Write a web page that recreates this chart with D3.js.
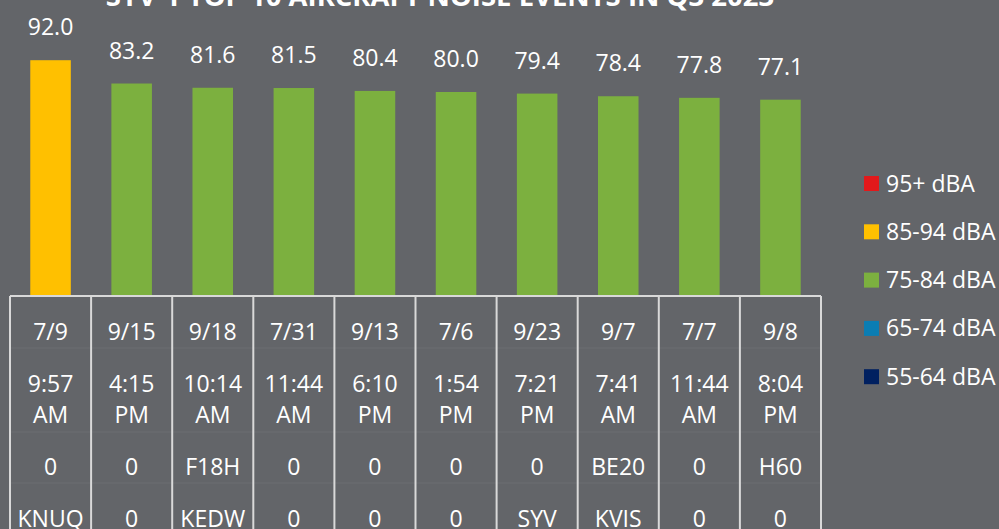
<!DOCTYPE html>
<html>
<head>
<meta charset="utf-8">
<script src="https://cdn.jsdelivr.net/npm/d3@7"></script>
<style>
  html, body { margin: 0; padding: 0; background: #636569; overflow: hidden; }
  svg { display: block; font-family: "Open Sans", "Noto Sans", sans-serif; }
</style>
</head>
<body>
<div id="chart"></div>
<script>
const WIDTH = 999;
const HEIGHT = 529;

// Data.
const dates    = ["7/9", "9/15", "9/18", "7/31", "9/13", "7/6", "9/23", "9/7", "7/7", "9/8"];
const times    = ["9:57 AM", "4:15 PM", "10:14 AM", "11:44 AM", "6:10 PM", "1:54 PM", "7:21 PM", "7:41 AM", "11:44 AM", "8:04 PM"];
const aircraft = ["0", "0", "F18H", "0", "0", "0", "0", "BE20", "0", "H60"];
const airports = ["KNUQ", "0", "KEDW", "0", "0", "0", "SYV", "KVIS", "0", "0"];
const values   = [92.0, 83.2, 81.6, 81.5, 80.4, 80.0, 79.4, 78.4, 77.8, 77.1];

const bandLabels = ["95+ dBA", "85-94 dBA", "75-84 dBA", "65-74 dBA", "55-64 dBA"];
const bandMins   = [95, 85, 75, 65, 55];
const bandColors = ["#e2191b", "#ffc000", "#7cb03f", "#0b7db3", "#002060"];

const TITLE = "SYV-1 TOP 10 AIRCRAFT NOISE EVENTS IN Q3 2023";

// Layout.
const PLOT = {'left': 10, 'right': 821};
const TABLE_TOP = 296;
const ROW_LINES = [348, 432, 483];

function bandColor(v) {
    for (var i = 0; i < bandMins.length; i++) {
        if (v >= bandMins[i]) return bandColors[i];
    }
    return bandColors[bandColors.length - 1];
}

var svg = d3.select("#chart").append("svg")
    .attr("width", WIDTH)
    .attr("height", HEIGHT);

var x = d3.scaleBand()
    .domain(d3.range(values.length))
    .range([PLOT.left, PLOT.right])
    .paddingInner(0.5)
    .paddingOuter(0.25);

var y = d3.scaleLinear()
    .domain([0, 100])
    .range([304, 39]);

// title (cut off at the top, like the original)
svg.append("text")
    .attr("x", 440)
    .attr("y", 6)
    .attr("text-anchor", "middle")
    .attr("fill", "#ffffff")
    .attr("font-weight", "bold")
    .attr("font-size", "27.5px")
    .text(TITLE);

// bars
svg.selectAll("rect.bar")
    .data(values)
    .enter()
    .append("rect")
    .attr("class", "bar")
    .attr("x", function(d, i) { return x(i); })
    .attr("y", function(d) { return y(d); })
    .attr("width", x.bandwidth())
    .attr("height", function(d) { return TABLE_TOP - y(d); })
    .attr("fill", function(d) { return bandColor(d); });

// value labels
svg.selectAll("text.val")
    .data(values)
    .enter()
    .append("text")
    .attr("class", "val")
    .attr("x", function(d, i) { return x(i) + x.bandwidth() / 2; })
    .attr("y", function(d) { return y(d) - 25; })
    .attr("text-anchor", "middle")
    .attr("fill", "#ffffff")
    .attr("font-size", "23px")
    .text(function(d) { return d.toFixed(1); });

// data table
var step = x.step();
var table = svg.append("g").attr("class", "table");

table.selectAll("line.row")
    .data(ROW_LINES)
    .enter()
    .append("line")
    .attr("x1", PLOT.left)
    .attr("x2", PLOT.right)
    .attr("y1", function(d) { return d; })
    .attr("y2", function(d) { return d; })
    .attr("stroke", "#6d6e72")
    .attr("stroke-width", 1);

table.append("line")
    .attr("x1", PLOT.left)
    .attr("x2", PLOT.right)
    .attr("y1", TABLE_TOP)
    .attr("y2", TABLE_TOP)
    .attr("stroke", "#d9d9d9")
    .attr("stroke-width", 2);

table.selectAll("line.col")
    .data(d3.range(values.length + 1))
    .enter()
    .append("line")
    .attr("x1", function(i) { return PLOT.left + i * step; })
    .attr("x2", function(i) { return PLOT.left + i * step; })
    .attr("y1", TABLE_TOP)
    .attr("y2", HEIGHT + 10)
    .attr("stroke", "#d9d9d9")
    .attr("stroke-width", 2);

function cellText(arr, baseline) {
    table.selectAll(null)
        .data(arr)
        .enter()
        .append("text")
        .attr("x", function(d, i) { return x(i) + x.bandwidth() / 2; })
        .attr("y", baseline)
        .attr("text-anchor", "middle")
        .attr("fill", "#ffffff")
        .attr("font-size", "23px")
        .text(function(d) { return d; });
}

cellText(dates, 340);
cellText(times.map(function(t) { return t.split(" ")[0]; }), 392);
cellText(times.map(function(t) { return t.split(" ")[1]; }), 423);
cellText(aircraft, 475);
cellText(airports, 527);

// legend
var legend = svg.append("g").attr("class", "legend");
var items = legend.selectAll("g")
    .data(bandLabels)
    .enter()
    .append("g")
    .attr("transform", function(d, i) { return "translate(864," + (183.5 + i * 48.3) + ")"; });

items.append("rect")
    .attr("x", 0)
    .attr("y", -7.5)
    .attr("width", 15)
    .attr("height", 15)
    .attr("fill", function(d, i) { return bandColors[i]; });

items.append("text")
    .attr("x", 22)
    .attr("y", 8)
    .attr("fill", "#ffffff")
    .attr("font-size", "23px")
    .text(function(d) { return d; });
</script>
</body>
</html>
